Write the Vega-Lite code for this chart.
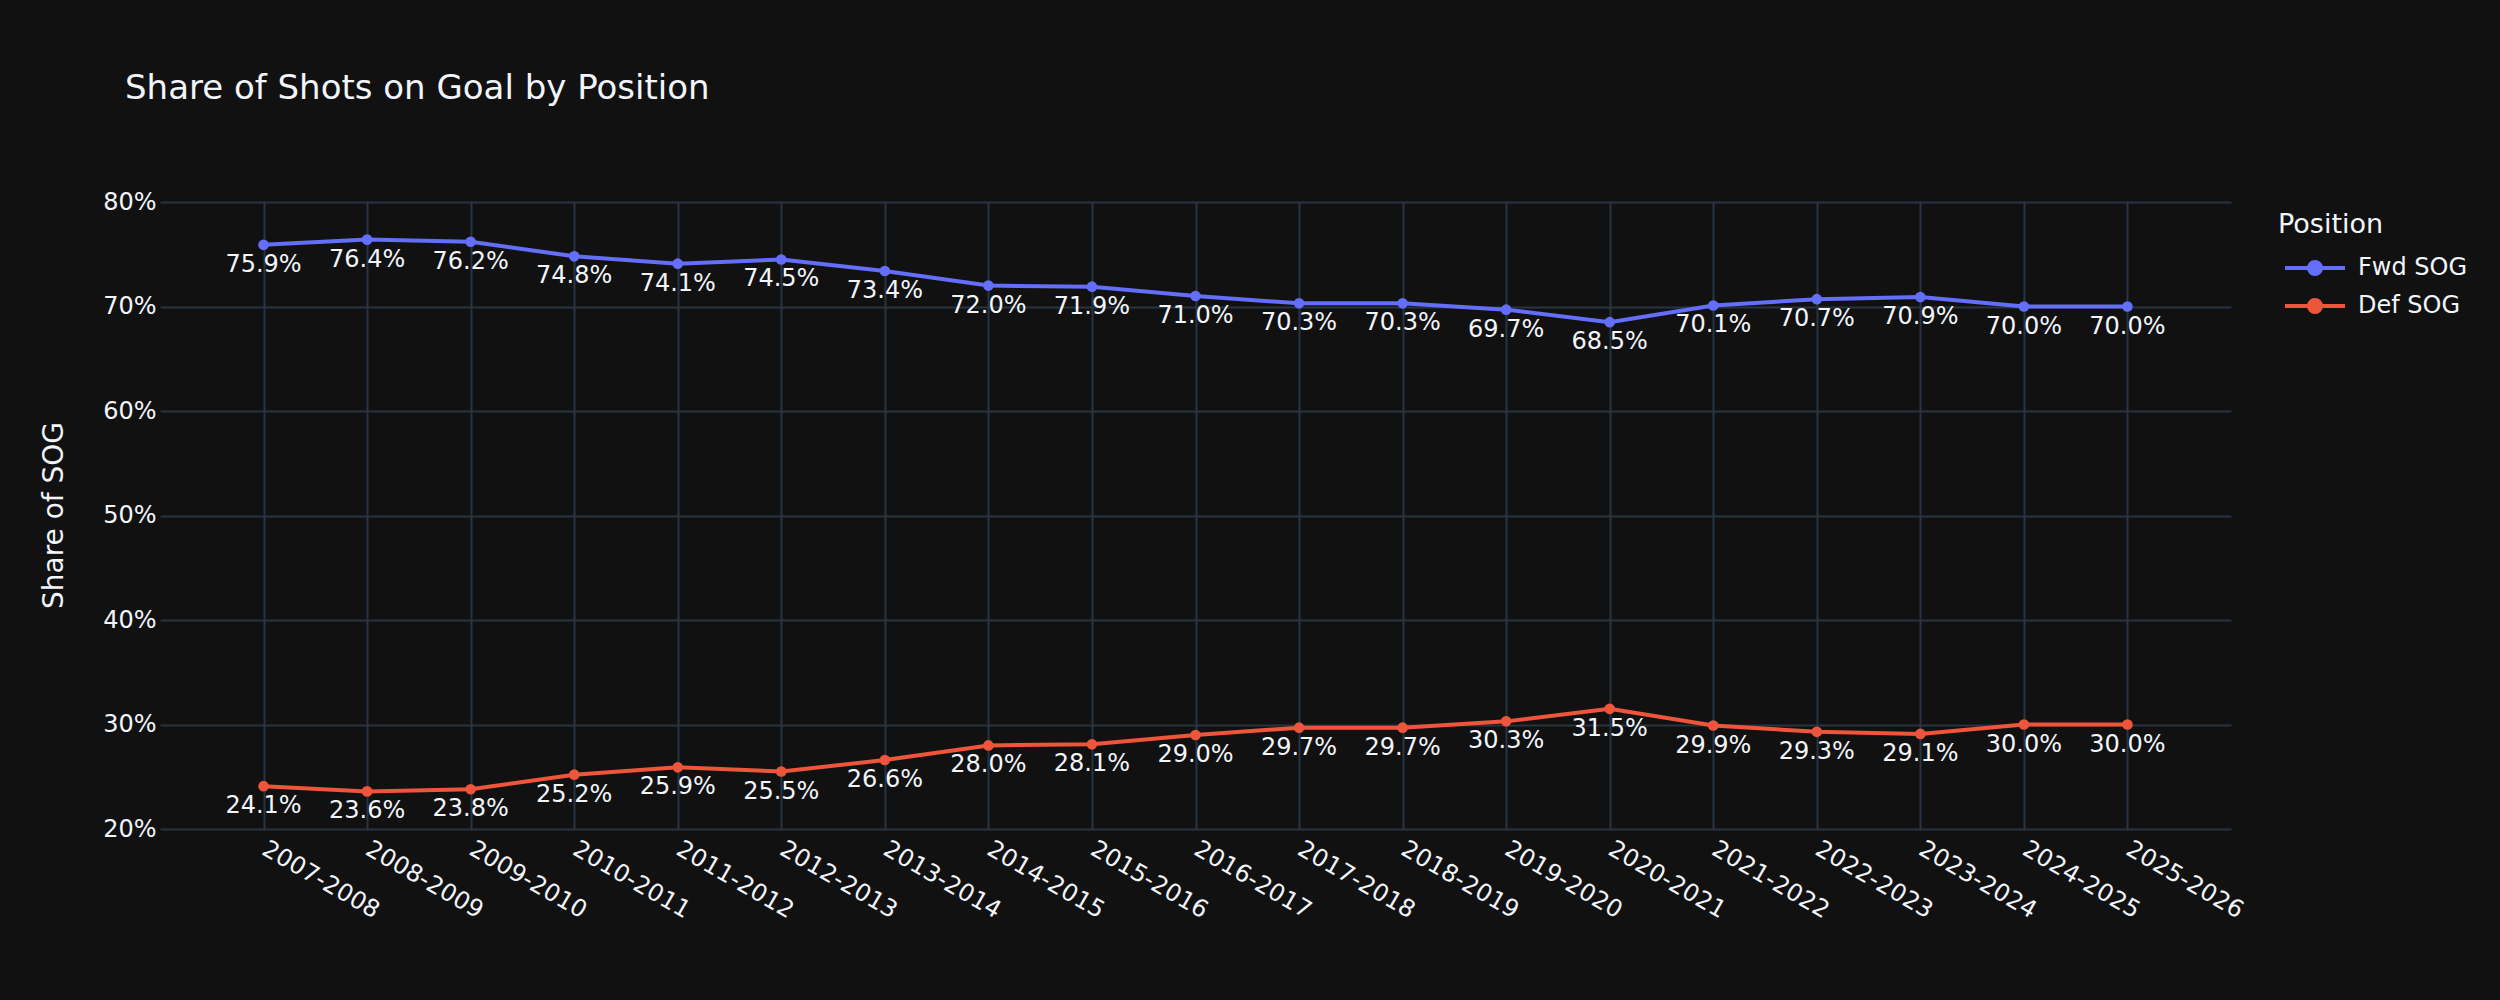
{
  "$schema": "https://vega.github.io/schema/vega-lite/v6.json",
  "autosize": {"type": "none"},
  "width": 2071,
  "height": 627,
  "padding": {"left": 160, "top": 202, "right": 269, "bottom": 171},
  "background": "#111111",
  "title": {
    "text": "Share of Shots on Goal by Position",
    "anchor": "start",
    "frame": "group",
    "baseline": "alphabetic",
    "offset": 57,
    "dx": -35,
    "font": "DejaVu Sans",
    "fontSize": 34,
    "fontWeight": "normal",
    "color": "#f2f5fa"
  },
  "data": {
    "values": [
      {"season": "2007-2008", "position": "Fwd SOG", "share": 0.759},
      {"season": "2008-2009", "position": "Fwd SOG", "share": 0.764},
      {"season": "2009-2010", "position": "Fwd SOG", "share": 0.762},
      {"season": "2010-2011", "position": "Fwd SOG", "share": 0.748},
      {"season": "2011-2012", "position": "Fwd SOG", "share": 0.741},
      {"season": "2012-2013", "position": "Fwd SOG", "share": 0.745},
      {"season": "2013-2014", "position": "Fwd SOG", "share": 0.734},
      {"season": "2014-2015", "position": "Fwd SOG", "share": 0.720},
      {"season": "2015-2016", "position": "Fwd SOG", "share": 0.719},
      {"season": "2016-2017", "position": "Fwd SOG", "share": 0.710},
      {"season": "2017-2018", "position": "Fwd SOG", "share": 0.703},
      {"season": "2018-2019", "position": "Fwd SOG", "share": 0.703},
      {"season": "2019-2020", "position": "Fwd SOG", "share": 0.697},
      {"season": "2020-2021", "position": "Fwd SOG", "share": 0.685},
      {"season": "2021-2022", "position": "Fwd SOG", "share": 0.701},
      {"season": "2022-2023", "position": "Fwd SOG", "share": 0.707},
      {"season": "2023-2024", "position": "Fwd SOG", "share": 0.709},
      {"season": "2024-2025", "position": "Fwd SOG", "share": 0.700},
      {"season": "2025-2026", "position": "Fwd SOG", "share": 0.700},
      {"season": "2007-2008", "position": "Def SOG", "share": 0.241},
      {"season": "2008-2009", "position": "Def SOG", "share": 0.236},
      {"season": "2009-2010", "position": "Def SOG", "share": 0.238},
      {"season": "2010-2011", "position": "Def SOG", "share": 0.252},
      {"season": "2011-2012", "position": "Def SOG", "share": 0.259},
      {"season": "2012-2013", "position": "Def SOG", "share": 0.255},
      {"season": "2013-2014", "position": "Def SOG", "share": 0.266},
      {"season": "2014-2015", "position": "Def SOG", "share": 0.280},
      {"season": "2015-2016", "position": "Def SOG", "share": 0.281},
      {"season": "2016-2017", "position": "Def SOG", "share": 0.290},
      {"season": "2017-2018", "position": "Def SOG", "share": 0.297},
      {"season": "2018-2019", "position": "Def SOG", "share": 0.297},
      {"season": "2019-2020", "position": "Def SOG", "share": 0.303},
      {"season": "2020-2021", "position": "Def SOG", "share": 0.315},
      {"season": "2021-2022", "position": "Def SOG", "share": 0.299},
      {"season": "2022-2023", "position": "Def SOG", "share": 0.293},
      {"season": "2023-2024", "position": "Def SOG", "share": 0.291},
      {"season": "2024-2025", "position": "Def SOG", "share": 0.300},
      {"season": "2025-2026", "position": "Def SOG", "share": 0.300}
    ]
  },
  "encoding": {
    "x": {
      "field": "season",
      "type": "nominal",
      "sort": null,
      "scale": {"type": "point", "paddingOuter": 1.08},
      "axis": {
        "title": null,
        "grid": true,
        "gridColor": "#283442",
        "gridWidth": 2,
        "domain": false,
        "ticks": false,
        "labelAngle": 30,
        "labelAlign": "left",
        "labelBaseline": "middle",
        "labelPadding": 18,
        "labelFont": "DejaVu Sans",
        "labelFontSize": 24,
        "labelColor": "#f2f5fa"
      }
    },
    "y": {
      "field": "share",
      "type": "quantitative",
      "scale": {"domain": [0.2, 0.8], "nice": false, "zero": false},
      "axis": {
        "title": "Share of SOG",
        "values": [0.2, 0.3, 0.4, 0.5, 0.6, 0.7, 0.8],
        "format": ".0%",
        "grid": true,
        "gridColor": "#283442",
        "gridWidth": 2,
        "domain": false,
        "ticks": false,
        "labelPadding": 4,
        "labelFont": "DejaVu Sans",
        "labelFontSize": 24,
        "labelColor": "#f2f5fa",
        "titleFont": "DejaVu Sans",
        "titleFontSize": 28,
        "titleFontWeight": "normal",
        "titleColor": "#f2f5fa",
        "titleX": -106,
        "titleY": 313,
        "titleAngle": -90,
        "titleAlign": "center",
        "titleBaseline": "middle"
      }
    }
  },
  "layer": [
    {
      "mark": {
        "type": "line",
        "strokeWidth": 4,
        "point": {"filled": true, "size": 113, "opacity": 1}
      },
      "encoding": {
        "color": {
          "field": "position",
          "type": "nominal",
          "scale": {"domain": ["Fwd SOG", "Def SOG"], "range": ["#636efa", "#EF553B"]},
          "legend": {
            "title": "Position",
            "orient": "none",
            "legendX": 2118,
            "legendY": 10,
            "titleFont": "DejaVu Sans",
            "titleFontSize": 27,
            "titleFontWeight": "normal",
            "titleColor": "#f2f5fa",
            "titlePadding": 12,
            "labelFont": "DejaVu Sans",
            "labelFontSize": 24,
            "labelColor": "#f2f5fa",
            "labelOffset": 26,
            "symbolType": "M-2,0L2,0M-0.4,0A0.4,0.4,0,1,1,0.4,0A0.4,0.4,0,1,1,-0.4,0Z",
            "symbolSize": 900,
            "symbolStrokeWidth": 4,
            "symbolOffset": 20,
            "rowPadding": 7,
            "encode": {
              "symbols": {
                "update": {
                  "fill": {"signal": "scale('color', datum.value)"},
                  "fillOpacity": {"value": 1},
                  "opacity": {"value": 1}
                }
              }
            }
          }
        }
      }
    },
    {
      "mark": {
        "type": "text",
        "baseline": "alphabetic",
        "align": "center",
        "dy": 27,
        "font": "DejaVu Sans",
        "fontSize": 24,
        "color": "#f2f5fa"
      },
      "encoding": {
        "text": {"field": "share", "type": "quantitative", "format": ".1%"}
      }
    }
  ],
  "config": {
    "view": {"stroke": null},
    "scale": {"pointPadding": 1.08}
  }
}
